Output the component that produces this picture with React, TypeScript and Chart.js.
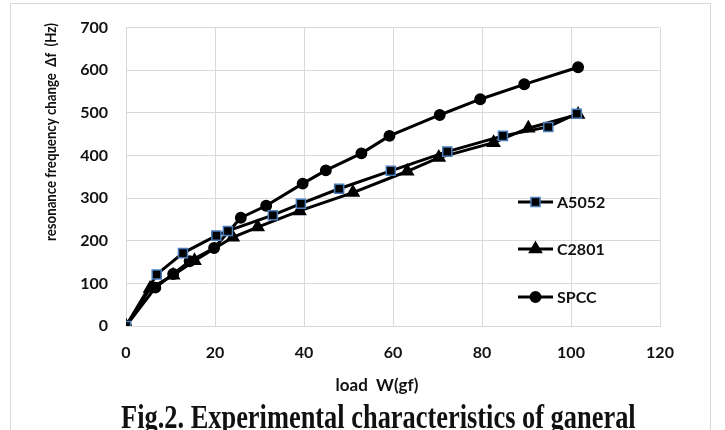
import React, { useEffect, useRef } from "react";
import { Chart, registerables } from "chart.js";

Chart.register(...registerables);

// ---- data ----
const seriesNames = ["A5052", "C2801", "SPCC"];
const loadA5052 = [0, 6.9, 12.8, 20.3, 22.9, 33, 39.3, 47.9, 59.5, 72.2, 84.7, 94.9, 101.3];
const freqA5052 = [0, 121, 171, 212, 223, 260, 287, 322, 364, 409, 446, 467, 498];
const loadC2801 = [0, 5.4, 10.6, 15.4, 24, 29.6, 39, 51, 63.2, 70.3, 82.6, 90.4, 101.6];
const freqC2801 = [0, 88, 119, 153, 208, 232, 270, 313, 363, 395, 430, 464, 496];
const loadSPCC = [0, 6.6, 10.6, 14.3, 19.8, 25.8, 31.5, 39.7, 44.9, 52.9, 59.2, 70.5, 79.6, 89.5, 101.6];
const freqSPCC = [0, 90, 122, 152, 183, 254, 282, 334, 365, 405, 446, 495, 532, 567, 607];
const xTicks = [0, 20, 40, 60, 80, 100, 120];
const yTicks = [0, 100, 200, 300, 400, 500, 600, 700];
const xTitle = "load  W(gf)";
const yTitle = "resonance frequency change  Δf  (Hz)";
const caption = "Fig.2. Experimental characteristics of ganeral";

const TEXT = "#111111";
const GRID = "#d9d9d9";
const FONT = "Lato, 'Open Sans', sans-serif";

function toPoints(xs: number[], ys: number[]) {
  return xs.map((x, i) => ({ x, y: ys[i] }));
}

function drawMarker(ctx: CanvasRenderingContext2D, style: string, x: number, y: number, r: number, fill: string, stroke: string, bw: number) {
  ctx.save();
  ctx.fillStyle = fill;
  ctx.strokeStyle = stroke;
  ctx.lineWidth = bw;
  ctx.beginPath();
  if (style === "rect") {
    const s = r * Math.SQRT1_2;
    ctx.rect(x - s, y - s, 2 * s, 2 * s);
  } else if (style === "triangle") {
    ctx.moveTo(x, y - r);
    ctx.lineTo(x + r * 0.866, y + r * 0.5);
    ctx.lineTo(x - r * 0.866, y + r * 0.5);
    ctx.closePath();
  } else {
    ctx.arc(x, y, r, 0, Math.PI * 2);
  }
  ctx.fill();
  ctx.stroke();
  ctx.restore();
}

const decorPlugin = {
  id: "decor",
  beforeDraw(chart: any) {
    const { ctx } = chart;
    ctx.save();
    ctx.strokeStyle = GRID;
    ctx.lineWidth = 1;
    ctx.strokeRect(10.5, 3.5, 700, 440);
    ctx.restore();
  },
  afterDraw(chart: any) {
    const { ctx } = chart;
    ctx.save();
    ctx.fillStyle = TEXT;
    // axis titles
    ctx.font = `bold 17px ${FONT}`;
    ctx.textAlign = "center";
    ctx.textBaseline = "middle";
    ctx.fillText(xTitle, 377, 386);
    ctx.save();
    ctx.translate(51, 132);
    ctx.rotate(-Math.PI / 2);
    ctx.font = `bold 16px ${FONT}`;
    const w = ctx.measureText(yTitle).width;
    ctx.scale(218 / w, 1);
    ctx.fillText(yTitle, 0, 0);
    ctx.restore();
    // legend
    const ys = [202, 249, 297];
    chart.data.datasets.forEach((ds: any, i: number) => {
      const y = ys[i];
      ctx.strokeStyle = ds.borderColor;
      ctx.lineWidth = ds.borderWidth;
      ctx.beginPath();
      ctx.moveTo(518, y);
      ctx.lineTo(553, y);
      ctx.stroke();
      drawMarker(ctx, ds.pointStyle, 535.5, y, ds.pointRadius, ds.pointBackgroundColor, ds.pointBorderColor, ds.pointBorderWidth);
      ctx.fillStyle = TEXT;
      ctx.font = `bold 16px ${FONT}`;
      ctx.textAlign = "left";
      ctx.textBaseline = "middle";
      ctx.fillText(ds.label, 557, y + 1);
    });
    ctx.restore();
  },
};

export default function App() {
  const ref = useRef<HTMLCanvasElement | null>(null);
  useEffect(() => {
    if (!ref.current) return;
    const mk = (label: string, data: any[], style: string, radius: number, border: string) => ({
      label,
      data,
      showLine: true,
      borderColor: "#000000",
      borderWidth: 3,
      pointStyle: style,
      pointRadius: radius,
      pointHoverRadius: radius,
      pointBackgroundColor: "#000000",
      pointBorderColor: border,
      pointBorderWidth: 1.5,
      tension: 0,
      fill: false,
    });
    const chart = new Chart(ref.current, {
      type: "scatter",
      data: {
        datasets: [
          mk(seriesNames[0], toPoints(loadA5052, freqA5052), "rect", 6.4, "#4a7ebb"),
          mk(seriesNames[1], toPoints(loadC2801, freqC2801), "triangle", 7, "#000000"),
          mk(seriesNames[2], toPoints(loadSPCC, freqSPCC), "circle", 5.2, "#000000"),
        ],
      },
      options: {
        responsive: false,
        animation: false,
        layout: { padding: { left: 0, top: 25, right: 65, bottom: 0 } },
        plugins: { legend: { display: false }, tooltip: { enabled: false } },
        scales: {
          x: {
            type: "linear",
            min: 0,
            max: 120,
            afterBuildTicks: (s: any) => { s.ticks = xTicks.map((v) => ({ value: v })); },
            afterFit: (s: any) => { s.height = 104; },
            grid: { color: GRID, drawTicks: false },
            border: { color: GRID },
            ticks: { color: TEXT, padding: 17, font: { family: FONT, size: 16, weight: "bold" } },
          },
          y: {
            type: "linear",
            min: 0,
            max: 700,
            afterBuildTicks: (s: any) => { s.ticks = yTicks.map((v) => ({ value: v })); },
            afterFit: (s: any) => { s.width = 126; },
            grid: { color: GRID, drawTicks: false },
            border: { color: GRID },
            ticks: { color: TEXT, padding: 18, font: { family: FONT, size: 16, weight: "bold" } },
          },
        },
      },
      plugins: [decorPlugin],
    } as any);
    return () => chart.destroy();
  }, []);
  return (
    <div style={{ position: "absolute", left: 0, top: 0, width: 725, height: 430, overflow: "hidden", background: "#fff" }}>
      <canvas ref={ref} width={725} height={430} style={{ position: "absolute", left: 0, top: 0 }} />
      <div
        style={{
          position: "absolute",
          left: 121,
          top: 397,
          fontFamily: "'Liberation Serif', 'DejaVu Serif', serif",
          fontWeight: "bold",
          fontSize: 33,
          lineHeight: "40px",
          whiteSpace: "nowrap",
          color: "#111",
          transformOrigin: "0 0",
          transform: "scaleX(0.8)",
        }}
      >
        {caption}
      </div>
    </div>
  );
}
